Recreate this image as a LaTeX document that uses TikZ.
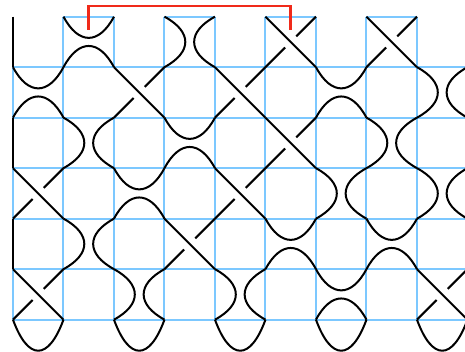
\documentclass[tikz,border=0pt]{standalone}
\usepackage{xcolor}
\usepackage{tikz}
\definecolor{gridblue}{HTML}{7CC8FF}
\definecolor{bondred}{HTML}{F02A1A}

\begin{document}
\begin{tikzpicture}[
    x=50.5pt, y=-50.5pt,
    gridline/.style={draw=gridblue, line width=2pt},
    strand/.style={draw=black, line width=2pt},
    bond/.style={draw=bondred, line width=2.8pt}
]
    \clip (-0.257,-0.33) rectangle (8.951,6.64);

    \foreach \r in {1,...,6} \draw[gridline] (0,\r) -- (9,\r);
    \foreach \c in {1,3,5,7} \draw[gridline] (\c,0) -- (\c+1,0);
    \draw[gridline] (0,1) -- (0,6);
    \foreach \c in {1,3,4,5,6,7,8} \draw[gridline] (\c,0) -- (\c,6);
    \draw[gridline] (2,0) -- (2,1);
    \draw[gridline] (2,2) -- (2,6);

    \foreach \r in {0,2,4} \draw[strand] (0,\r) -- (0,\r+1);

    % cup over cap
    \foreach \c/\r in {1/0, 0/1, 6/1, 3/2, 2/3, 5/4, 7/4, 6/5} {
        \draw[strand] (\c,\r) .. controls (\c+.3,\r+.56) and (\c+.7,\r+.56) .. (\c+1,\r);
        \draw[strand] (\c,\r+1) .. controls (\c+.3,\r+.44) and (\c+.7,\r+.44) .. (\c+1,\r+1);
    }
    % side by side
    \foreach \c/\r in {3/0, 8/1, 1/2, 7/2, 6/3, 8/3, 1/4, 2/5, 4/5} {
        \draw[strand] (\c,\r) .. controls (\c+.55,\r+.3) and (\c+.55,\r+.7) .. (\c,\r+1);
        \draw[strand] (\c+1,\r) .. controls (\c+.45,\r+.3) and (\c+.45,\r+.7) .. (\c+1,\r+1);
    }
    % crossings
    \foreach \c/\r in {5/0, 7/0, 2/1, 4/1, 5/2, 0/3, 4/3, 3/4, 0/5, 8/5} {
        \draw[strand] (\c,\r) -- (\c+1,\r+1);
        \draw[strand] (\c,\r+1) -- (\c+.39,\r+.61);
        \draw[strand] (\c+.61,\r+.39) -- (\c+1,\r);
    }
    \foreach \c in {0,2,4,6,8}
        \draw[strand] (\c,6) .. controls (\c+.3,6.82) and (\c+.7,6.82) .. (\c+1,6);

    \coordinate (bondA) at (1.49,.26);
    \coordinate (bondB) at (5.49,.26);
    \draw[bond] (bondA) -- (1.49,-.21) -- (5.49,-.21) -- (bondB);
\end{tikzpicture}
\end{document}
